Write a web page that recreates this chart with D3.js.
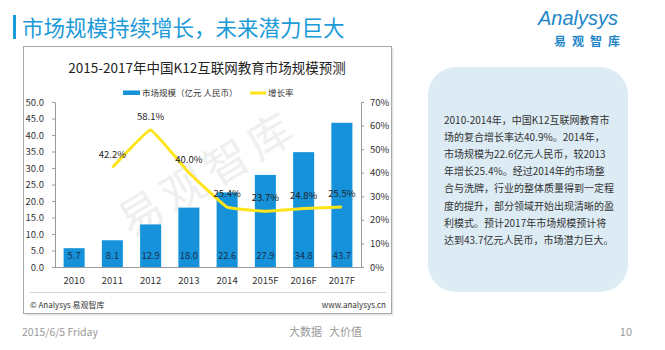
<!DOCTYPE html>
<html>
<head>
<meta charset="utf-8">
<script src="https://cdn.jsdelivr.net/npm/d3@7"></script>
<style>
  body { margin: 0; background: #fff; }
  svg { display: block; font-family: "Noto Sans CJK SC", "Liberation Sans", sans-serif; }
</style>
</head>
<body>
<div id="chart"></div>
<script>
const categories = ["2010", "2011", "2012", "2013", "2014", "2015F", "2016F", "2017F"];
const marketSize = [5.7, 8.1, 12.9, 18.0, 22.6, 27.9, 34.8, 43.7];
const growthCats = ["2011", "2012", "2013", "2014", "2015F", "2016F", "2017F"];
const growthRate = [0.422, 0.581, 0.400, 0.254, 0.237, 0.248, 0.255];
const leftTicks = [0, 5, 10, 15, 20, 25, 30, 35, 40, 45, 50];
const rightTicks = [0, 0.1, 0.2, 0.3, 0.4, 0.5, 0.6, 0.7];
const boxLines = [
  "2010-2014年，中国K12互联网教育市",
  "场的复合增长率达40.9%。2014年，",
  "市场规模为22.6亿元人民币，较2013",
  "年增长25.4%。经过2014年的市场整",
  "合与洗牌，行业的整体质量得到一定程",
  "度的提升，部分领域开始出现清晰的盈",
  "利模式。预计2017年市场规模预计将",
  "达到43.7亿元人民币，市场潜力巨大。"
];

const W = 665, H = 350;
const barColor = "#1592d9";
const lineColor = "#ffe41a";
const blue = "#1b9ad8";

const svg = d3.select("#chart").append("svg")
  .attr("width", W)
  .attr("height", H);

// slide header
svg.append("rect").attr("x", 13).attr("y", 15).attr("width", 3).attr("height", 24).attr("fill", blue);
svg.append("text")
  .attr("x", 22).attr("y", 36)
  .style("font-size", "21.5px")
  .attr("fill", blue)
  .text("市场规模持续增长，未来潜力巨大");

// logo
svg.append("text")
  .attr("x", 538).attr("y", 25)
  .style("font-size", "20px")
  .style("font-style", "italic")
  .style("font-family", "'Liberation Sans', sans-serif")
  .attr("fill", "#1e86c8")
  .text("Analysys");
svg.append("text")
  .attr("x", 554).attr("y", 46)
  .style("font-size", "12px")
  .style("font-weight", "bold")
  .style("letter-spacing", "6px")
  .attr("fill", "#1e86c8")
  .text("易观智库");

// chart frame
svg.append("rect")
  .attr("x", 25.5).attr("y", 48.5).attr("width", 368).attr("height", 267)
  .attr("fill", "#e6e6e6");
svg.append("rect")
  .attr("x", 23.5).attr("y", 46.5).attr("width", 368).attr("height", 267)
  .attr("fill", "#fff").attr("stroke", "#a8a8a8");

svg.append("text")
  .attr("x", 207).attr("y", 73)
  .attr("text-anchor", "middle")
  .style("font-size", "13.5px")
  .attr("fill", "#222")
  .text("2015-2017年中国K12互联网教育市场规模预测");

// legend
svg.append("rect").attr("x", 123).attr("y", 90.5).attr("width", 17).attr("height", 4.5).attr("fill", barColor);
svg.append("text").attr("x", 142).attr("y", 96).style("font-size", "8.5px").attr("fill", "#333")
  .text("市场规模（亿元 人民币）");
svg.append("line").attr("x1", 250).attr("x2", 266).attr("y1", 93).attr("y2", 93)
  .attr("stroke", lineColor).attr("stroke-width", 3);
svg.append("text").attr("x", 268).attr("y", 96).style("font-size", "8.5px").attr("fill", "#333")
  .text("增长率");

// watermark
svg.append("text")
  .attr("transform", "translate(208,174) rotate(-31)")
  .attr("text-anchor", "middle")
  .attr("dy", "0.35em")
  .style("font-size", "44px")
  .style("letter-spacing", "6px")
  .attr("fill", "#efefef")
  .text("易观智库");

// scales
const x = d3.scaleBand().domain(categories).range([55, 361]).paddingInner(0.45).paddingOuter(0.225);
const yL = d3.scaleLinear().domain([0, 50]).range([267, 102]);
const yR = d3.scaleLinear().domain([0, 0.7]).range([267, 102]);

// axes
const gL = svg.append("g").attr("transform", "translate(55,0)")
  .call(d3.axisLeft(yL).tickValues(leftTicks).tickFormat(d3.format(".1f")).tickSize(3).tickPadding(8));
const gR = svg.append("g").attr("transform", "translate(361,0)")
  .call(d3.axisRight(yR).tickValues(rightTicks).tickFormat(d3.format(".0%")).tickSize(3).tickPadding(6));
const gX = svg.append("g").attr("transform", "translate(0,267)")
  .call(d3.axisBottom(x).tickSize(0).tickPadding(10));
[gL, gR, gX].forEach(g => {
  g.select(".domain").attr("stroke", "#9a9a9a");
  g.selectAll(".tick line").attr("stroke", "#9a9a9a");
  g.selectAll("text").style("font-size", "9.5px").attr("fill", "#333")
    .style("font-family", "'Noto Sans CJK SC', sans-serif");
});
gX.select(".domain").attr("d", "M55,0.5H361");

// bars
svg.selectAll("rect.bar")
  .data(categories.map((c, i) => [c, marketSize[i]]))
  .join("rect")
  .attr("class", "bar")
  .attr("x", d => x(d[0]))
  .attr("y", d => yL(d[1]))
  .attr("width", x.bandwidth())
  .attr("height", d => yL(0) - yL(d[1]))
  .attr("fill", barColor);

svg.selectAll("text.bar-label")
  .data(categories.map((c, i) => [c, marketSize[i]]))
  .join("text")
  .attr("class", "bar-label")
  .attr("x", d => x(d[0]) + x.bandwidth() / 2)
  .attr("y", yL(0) - 8)
  .attr("text-anchor", "middle")
  .style("font-size", "9.5px")
  .attr("fill", "#1a2f4a")
  .text(d => d[1].toFixed(1));

// growth line
const pts = growthCats.map((c, i) => [x(c) + x.bandwidth() / 2, yR(growthRate[i]), growthRate[i]]);
svg.append("path")
  .datum(pts)
  .attr("fill", "none")
  .attr("stroke", lineColor)
  .attr("stroke-width", 3)
  .attr("stroke-linejoin", "round")
  .attr("d", d3.line().x(d => d[0]).y(d => d[1]).curve(d3.curveCardinal.tension(0.75)));

svg.selectAll("text.rate-label")
  .data(pts)
  .join("text")
  .attr("class", "rate-label")
  .attr("x", d => d[0])
  .attr("y", d => d[1] - 10)
  .attr("text-anchor", "middle")
  .style("font-size", "9.5px")
  .attr("fill", "#222")
  .text(d => d3.format(".1%")(d[2]));

// chart footer
svg.append("line").attr("x1", 30).attr("x2", 386).attr("y1", 292.5).attr("y2", 292.5)
  .attr("stroke", "#d4d4d4");
svg.append("text").attr("x", 30).attr("y", 308).style("font-size", "8px").attr("fill", "#333")
  .text("© Analysys 易观智库");
svg.append("text").attr("x", 386).attr("y", 308).attr("text-anchor", "end").style("font-size", "8px").attr("fill", "#333")
  .text("www.analysys.cn");

// right text box
svg.append("rect")
  .attr("x", 428).attr("y", 67).attr("width", 200).attr("height", 225).attr("rx", 28)
  .attr("fill", "#dcebf4");
svg.selectAll("text.box-line")
  .data(boxLines)
  .join("text")
  .attr("class", "box-line")
  .attr("x", 444)
  .attr("y", (d, i) => 124 + i * 17.1)
  .style("font-size", "10px")
  .attr("fill", "#333")
  .text(d => d);

// slide footer
svg.append("text").attr("x", 22).attr("y", 336).style("font-size", "10.5px").attr("fill", "#999")
  .text("2015/6/5 Friday");
const slogan = svg.append("text").attr("y", 336).style("font-size", "11px").attr("fill", "#999");
slogan.append("tspan").attr("x", 289).text("大数据");
slogan.append("tspan").attr("x", 329).text("大价值");
svg.append("text").attr("x", 632).attr("y", 336).attr("text-anchor", "end").style("font-size", "11px").attr("fill", "#999")
  .text("10");
</script>
</body>
</html>
